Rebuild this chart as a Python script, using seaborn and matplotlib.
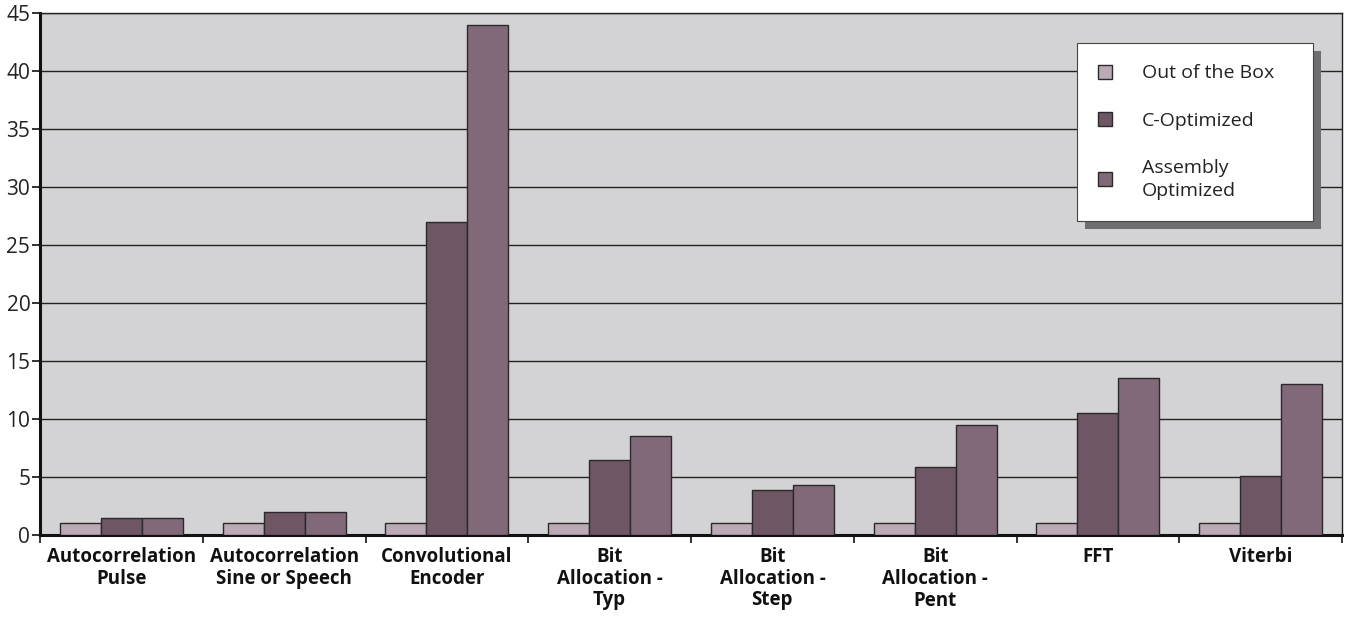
import matplotlib
matplotlib.use("Agg")
import matplotlib.pyplot as plt
import seaborn as sns
import pandas as pd
import numpy as np
from matplotlib.patches import Rectangle, Patch
from matplotlib.ticker import FixedLocator

categories = ["Autocorrelation\nPulse", "Autocorrelation\nSine or Speech", "Convolutional\nEncoder",
              "Bit\nAllocation -\nTyp", "Bit\nAllocation -\nStep", "Bit\nAllocation -\nPent",
              "FFT", "Viterbi"]
series = ["Out of the Box", "C-Optimized", "Assembly\nOptimized"]
out_of_box = [1, 1, 1, 1, 1, 1, 1, 1]
c_optimized = [1.5, 2, 27, 6.5, 3.9, 5.9, 10.5, 5.1]
asm_optimized = [1.5, 2, 44, 8.5, 4.3, 9.5, 13.5, 13]
colors = ["#BBA9B5", "#6E5664", "#826979"]
yticks = [0, 5, 10, 15, 20, 25, 30, 35, 40, 45]

rows = []
for name, vals in zip(series, [out_of_box, c_optimized, asm_optimized]):
    for c, v in zip(categories, vals):
        rows.append({"cat": c, "series": name, "value": v})
df = pd.DataFrame(rows)

sns.set_theme(style="white")
plt.rcParams['font.family'] = ['Open Sans', 'DejaVu Sans']

fig = plt.figure(figsize=(13.46, 6.18), dpi=100)
ax = fig.add_axes([40/1346, 1-535/618, (1342-40)/1346, (535-13)/618])
ax.set_facecolor("#D3D3D5")

sns.barplot(data=df, x="cat", y="value", hue="series", order=categories, hue_order=series,
            palette=colors, width=0.755, edgecolor="#2a2a2a", linewidth=1.0, ax=ax,
            saturation=1, zorder=3)

ax.set_ylim(0, 45)
ax.set_xlim(-0.5, len(categories) - 0.5)
ax.set_yticks(yticks)
ax.yaxis.grid(True, color="#222222", linewidth=1.0, zorder=0)
ax.set_axisbelow(True)
ax.set_xlabel("")
ax.set_ylabel("")

for s in ["left", "bottom"]:
    ax.spines[s].set_linewidth(2.2)
    ax.spines[s].set_color("#111111")
for s in ["top", "right"]:
    ax.spines[s].set_linewidth(1.0)
    ax.spines[s].set_color("#222222")

ax.tick_params(axis="y", which="major", direction="out", length=6, width=1.2,
               color="#111111", labelsize=15, labelcolor="#222222", pad=1, left=True)
ax.tick_params(axis="x", which="major", length=0, pad=9)
ax.xaxis.set_minor_locator(FixedLocator(np.arange(-0.5, len(categories), 1.0)))
ax.tick_params(axis="x", which="minor", direction="out", length=6, width=1.2, color="#111111", bottom=True)
for lab in ax.get_xticklabels():
    lab.set_fontweight("bold")
    lab.set_fontsize(13.5)
    lab.set_linespacing(1.1)
    lab.set_color("#111111")
    lab.set_verticalalignment("top")

if ax.legend_:
    ax.legend_.remove()
handles = [Patch(facecolor=c, edgecolor="#2a2a2a", linewidth=1.0) for c in colors]
lx0 = (1077 - 40) / 1302
lw = (1313 - 1077) / 1302
ltop = 1 - (43 - 13) / 522
leg = ax.legend(handles, series, loc="upper left", mode="expand",
                bbox_to_anchor=(lx0, ltop - 0.3, lw, 0.3),
                frameon=True, fancybox=False, framealpha=1, edgecolor="#444444",
                facecolor="white", fontsize=14, handlelength=0.72, handleheight=0.72,
                labelspacing=1.5, borderpad=1.1, handletextpad=1.5, borderaxespad=0,
                labelcolor="#222222")
leg.get_frame().set_linewidth(0.8)
leg.set_zorder(10)
for t in leg.get_texts():
    t.set_linespacing(1.35)

fig.canvas.draw()
bb = leg.get_window_extent()
inv = fig.transFigure.inverted()
(x0, y0), (x1, y1) = inv.transform([(bb.x0 + 8, bb.y0 - 8), (bb.x1 + 8, bb.y1 - 8)])
shadow = Rectangle((x0, y0), x1 - x0, y1 - y0, transform=fig.transFigure,
                   facecolor="#6E6E70", edgecolor="none", zorder=9)
ax.add_artist(shadow)
shadow.set_clip_on(False)

fig.savefig("out.png", dpi=100)
